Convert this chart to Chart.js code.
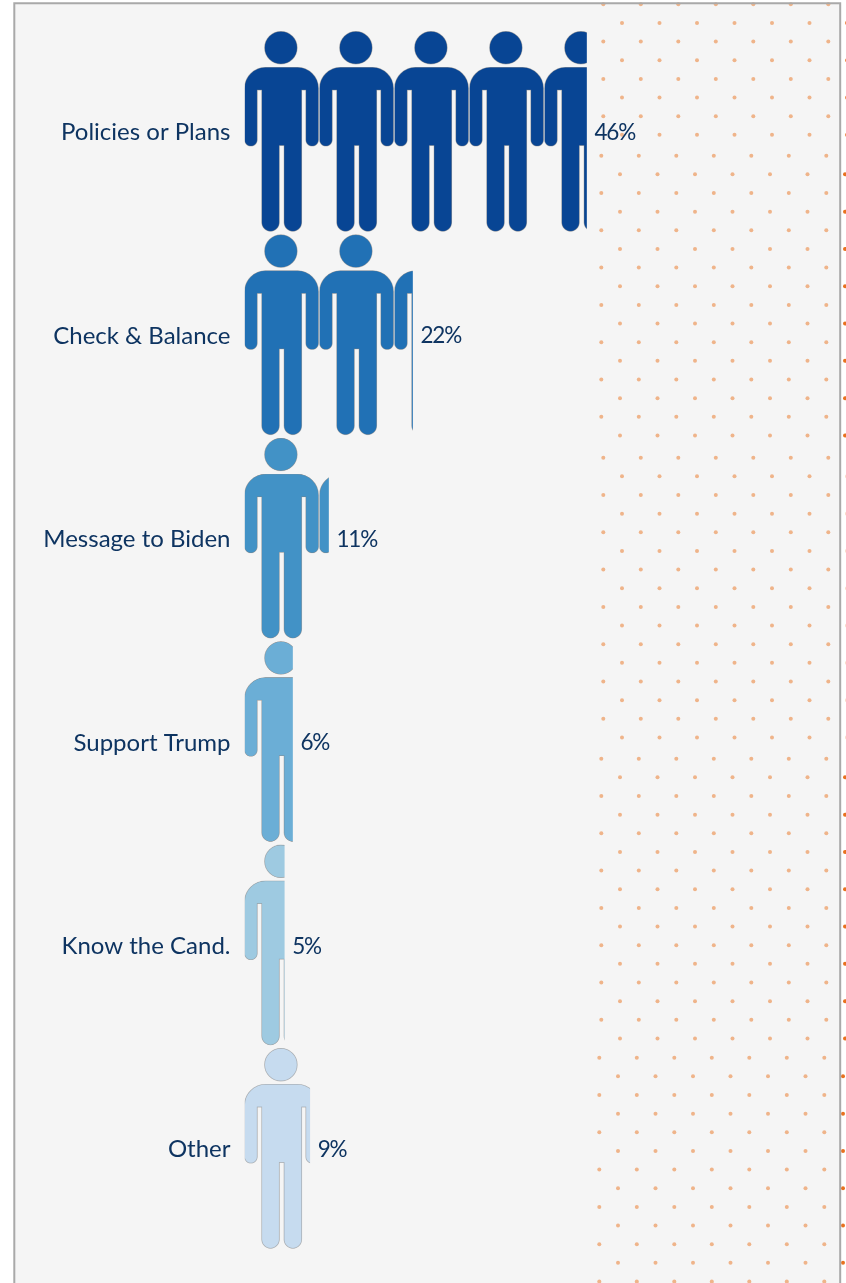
<!DOCTYPE html>
<html>
<head>
<meta charset="utf-8">
<title>Reasons for voting</title>
<script src="https://cdn.jsdelivr.net/npm/chart.js@4"></script>
<style>
  html, body { margin: 0; padding: 0; background: #fff; }
  canvas { display: block; }
</style>
</head>
<body>
<canvas id="grafico" width="846" height="1283"></canvas>
<script>
const categories = ['Policies or Plans', 'Check & Balance', 'Message to Biden', 'Support Trump', 'Know the Cand.', 'Other'];
const shares = [45.6, 22.4, 11.2, 6.4, 5.3, 8.7];
const rowColors = ['#084594', '#2171b5', '#4292c6', '#6baed6', '#9ecae1', '#c6dbef'];

const textColor = '#0e3461';
const textFont = 'Lato';
const UNITS_PER_PERSON = 10;

// one person, drawn in a 75x204 box
function personPath(c) {
  c.beginPath();
  c.arc(36.4, 17.7, 16.3, 0, Math.PI * 2);
  c.closePath();
  c.moveTo(21, 37.3);
  c.lineTo(53, 37.3);
  c.arcTo(74, 37.3, 74, 58, 21);
  c.lineTo(74, 109.7);
  c.arc(67.65, 109.7, 6.35, 0, Math.PI);
  c.lineTo(61.3, 60);
  c.lineTo(57.2, 60);
  c.lineTo(57.2, 192);
  c.arcTo(57.2, 201.3, 48, 201.3, 9);
  c.arcTo(39.5, 201.3, 39.5, 192, 9);
  c.lineTo(39.5, 115.5);
  c.lineTo(34.8, 115.5);
  c.lineTo(34.8, 192);
  c.arcTo(34.8, 201.3, 26, 201.3, 9);
  c.arcTo(17.2, 201.3, 17.2, 192, 9);
  c.lineTo(17.2, 60);
  c.lineTo(12.7, 60);
  c.lineTo(12.7, 109.7);
  c.arc(6.35, 109.7, 6.35, 0, Math.PI);
  c.lineTo(0, 58);
  c.arcTo(0, 37.3, 21, 37.3, 21);
  c.closePath();
}

const patterns = {};

function personPattern(ctx) {
  const chart = ctx.chart;
  const i = ctx.dataIndex;
  if (!chart.chartArea || i === undefined) return rowColors[i || 0];

  const x0 = chart.scales.x.getPixelForValue(0);
  const tileW = chart.scales.x.getPixelForValue(UNITS_PER_PERSON) - x0;
  const rowH = chart.chartArea.height / categories.length;
  const y0 = chart.scales.y.getPixelForValue(i) - rowH / 2;
  const key = i + '_' + y0;
  if (patterns[key]) return patterns[key];

  const tile = document.createElement('canvas');
  tile.width = 150;
  tile.height = 408;
  const c = tile.getContext('2d');
  c.scale(2, 2);
  personPath(c);
  c.fillStyle = rowColors[i];
  c.fill();
  c.strokeStyle = 'rgba(130,130,130,0.6)';
  c.lineWidth = 0.7;
  c.stroke();

  const p = chart.ctx.createPattern(tile, 'repeat');
  p.setTransform(new DOMMatrix().translate(x0, y0).scale(tileW / 150, 0.5));
  patterns[key] = p;
  return p;
}

// panel, frame and the dotted wallpaper behind the chart
const dotSegments = [
  { top: 4.3, rows: 8, dx: 0, outer: 0.8 },
  { top: 155.7, rows: 16, dx: -2, outer: 1 },
  { top: 457.7, rows: 16, dx: 0, outer: 0.25 },
  { top: 758.7, rows: 16, dx: -2, outer: 1 },
  { top: 1057.7, rows: 13, dx: -4, outer: 1 }
];

const fondo = {
  id: 'fondo',
  beforeDraw(chart) {
    const c = chart.ctx;
    c.save();
    c.fillStyle = '#ffffff';
    c.fillRect(0, 0, 846, 1283);
    c.fillStyle = '#f5f5f5';
    c.fillRect(14, 3, 826.5, 1280);

    dotSegments.forEach((s) => {
      for (let r = 0; r < s.rows; r++) {
        const y = s.top + r * 18.65;
        const odd = r % 2 === 1;
        for (let k = 0; k < 7; k++) {
          const x = (odd ? 622 : 603.3) + s.dx + k * 37.5;
          c.beginPath();
          c.arc(x, y, 2, 0, Math.PI * 2);
          if (x > 841) {
            c.globalAlpha = s.outer;
            c.fillStyle = '#e8711f';
          } else {
            c.globalAlpha = 1;
            c.fillStyle = '#efb48a';
          }
          c.fill();
        }
      }
    });
    c.globalAlpha = 1;

    c.strokeStyle = '#a9a9a9';
    c.lineWidth = 2;
    c.beginPath();
    c.moveTo(14.3, 1283);
    c.lineTo(14.3, 3.2);
    c.lineTo(840.2, 3.2);
    c.lineTo(840.2, 1283);
    c.stroke();
    c.restore();
  }
};

const etiquetas = {
  id: 'etiquetas',
  afterDatasetsDraw(chart) {
    const c = chart.ctx;
    c.save();
    c.font = '22.5px ' + textFont;
    c.letterSpacing = '-1.2px';
    c.fillStyle = textColor;
    c.textAlign = 'left';
    c.textBaseline = 'middle';
    chart.getDatasetMeta(0).data.forEach((bar, i) => {
      c.fillText(Math.round(shares[i]) + '%', bar.x + 8, bar.y + 1);
    });
    c.restore();
  }
};

new Chart(document.getElementById('grafico'), {
  type: 'bar',
  data: {
    labels: categories,
    datasets: [{
      label: 'Share',
      data: shares,
      backgroundColor: personPattern,
      borderWidth: 0,
      barPercentage: 1,
      categoryPercentage: 1
    }]
  },
  options: {
    indexAxis: 'y',
    animation: false,
    responsive: false,
    devicePixelRatio: 1,
    layout: { padding: { left: 0, right: 151.5, top: 30, bottom: 32.6 } },
    plugins: {
      legend: { display: false },
      tooltip: { enabled: false }
    },
    scales: {
      x: { display: false, min: 0, max: 60 },
      y: {
        afterFit(scale) { scale.width = 244.5; },
        border: { display: false },
        grid: { display: false, drawTicks: false },
        ticks: {
          padding: 14,
          labelOffset: 1,
          color: textColor,
          font: { family: textFont, size: 24 }
        }
      }
    }
  },
  plugins: [fondo, etiquetas]
});
</script>
</body>
</html>
